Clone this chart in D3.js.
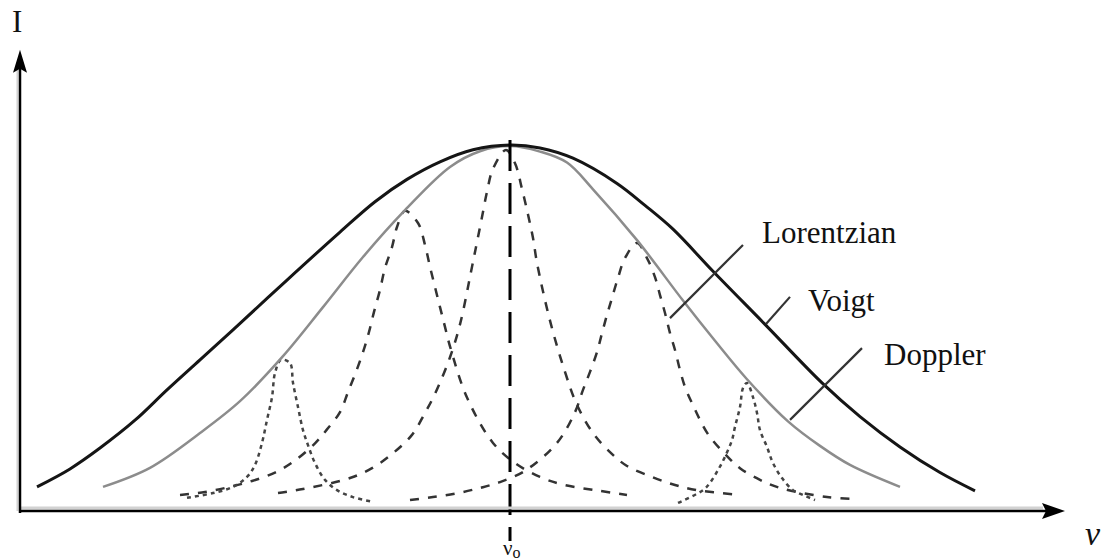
<!DOCTYPE html>
<html>
<head>
<meta charset="utf-8">
<script src="https://cdn.jsdelivr.net/npm/d3@7"></script>
<style>
  body { margin: 0; background: #fff; }
  text { font-family: "Liberation Serif", "Times New Roman", serif; fill: #111; }
</style>
</head>
<body>
<div id="graph"></div>
<script>
const width = 1106;
const height = 560;

// profiles, [nu, intensity] with nu0 = 0 and peak ~ 100
const voigt = [
  [-47.3, 6.6], [-44, 11.5], [-41, 17.2], [-37.5, 24.8], [-34.3, 33.1], [-31, 41.3],
  [-27.7, 49.5], [-22.3, 63.1], [-17, 76.2], [-13.5, 84.5], [-10.3, 90.6], [-7, 95.4],
  [-3.7, 98.7], [0, 100], [3, 99.2], [6.3, 96.4], [10.7, 89.5], [13.5, 83.5],
  [16.3, 77], [20.3, 65.5], [25.5, 51], [31.2, 35], [35, 25.8], [39, 17.5],
  [43, 10.5], [46.5, 5.5]
];

const doppler = [
  [-40.7, 6.6], [-36, 11.8], [-31, 21.3], [-27, 30], [-22.7, 42.3], [-18.7, 55.7],
  [-14.7, 69.4], [-10.5, 82.2], [-6, 94], [-3, 98.3], [0, 99.7], [3, 98.2],
  [5.7, 95.2], [8.3, 87.9], [12.7, 74], [17.3, 57.5], [20.5, 46.5], [23.7, 36],
  [27.8, 24.5], [31, 17.8], [34, 12.6], [39, 6.6]
];

// the five lorentzians under the doppler envelope
const lorentzCenter = [
  [-23.2, 4.9], [-20.7, 6], [-16, 9], [-13.8, 11.7], [-11.7, 15.8], [-9.8, 20.8],
  [-8.5, 26.8], [-7.5, 32], [-6, 42], [-5, 51], [-3.8, 66.7], [-3.3, 73.5],
  [-2.8, 80.3], [-2.3, 87.2], [-1.7, 93.5], [-0.4, 98.6], [0.5, 95], [1.2, 88],
  [1.8, 81], [2.3, 74.6], [2.7, 67.8], [4, 52], [5.5, 38], [6.7, 29], [8.3, 21.3],
  [10, 16.1], [11.7, 12.3], [14.2, 9.3], [16.5, 7.1], [18.7, 5.7], [22.5, 4.5]
];

const lorentzLeft = [
  [-33, 4.4], [-30.5, 5.2], [-28, 6.6], [-25.8, 8.2], [-23.5, 10.5], [-21.5, 13.8],
  [-19.5, 18.5], [-18.3, 22.3], [-17, 27], [-16.2, 32.5], [-15.4, 38], [-14.7, 43.4],
  [-14.1, 48.9], [-13.6, 54.4], [-13, 60.4], [-12.5, 66.4], [-11.8, 72.1], [-11.3, 77.6],
  [-10.5, 82], [-9.2, 78.7], [-8.5, 72.7], [-8, 66.7], [-7.5, 61.2], [-7, 55.7],
  [-6.5, 50.3], [-6, 45], [-4.3, 31], [-1.7, 18.6], [0.5, 13.1], [3, 9.3], [5.3, 7.2],
  [9, 5.5], [11.7, 4.4]
];

const lorentzRight = [
  [-10, 3], [-7.7, 3.8], [-5.2, 4.9], [-3, 6.3], [-1, 7.9], [1.5, 11], [4.7, 18.6],
  [6.5, 27], [7.3, 33.1], [8, 38], [8.7, 43.4], [9.2, 48.6], [9.7, 53.6], [10.2, 58.2],
  [10.8, 63.7], [11.5, 69.1], [12.7, 73.2], [13.7, 69.1], [14.5, 63.9], [15, 59],
  [15.5, 54.1], [16, 48.6], [16.5, 44], [17, 38.5], [17.5, 33.9], [18.2, 29.5],
  [19.8, 21], [21.7, 15], [23, 11.7], [25, 8.5], [27, 6.3], [31.7, 3.8], [34.3, 3.3]
];

const lorentzSmallLeft = [
  [-32.3, 3.6], [-29.7, 4.9], [-27.7, 6.6], [-26.3, 9.3], [-25.5, 12.6], [-24.8, 18.6],
  [-24.3, 24.9], [-23.8, 31.1], [-23.5, 37.7], [-22.9, 41.3], [-22, 40.4], [-21.7, 35],
  [-21.2, 28.4], [-20.7, 22.1], [-20.2, 18], [-19.5, 13.1], [-18.5, 8.5], [-17.3, 5.7],
  [-15.7, 3.8], [-13.7, 2.5]
];

const lorentzSmallRight = [
  [16.8, 2.2], [19.3, 5.7], [20, 7.7], [20.8, 11.2], [21.5, 14.8], [22.2, 19.4],
  [22.5, 23], [23, 28.4], [23.3, 33.6], [23.7, 35], [24.3, 31.1], [24.7, 26.8],
  [25, 22.1], [25.7, 17.5], [26.3, 13.1], [27.2, 9], [28.3, 5.7], [29.3, 4.4], [30.5, 3]
];

// labels and their pointer lines (nu, I)
const labelNames = ["Lorentzian", "Voigt", "Doppler"];
const labelAt = [[25.2, 73.2], [29.8, 54.6], [37.4, 39.9]];
const leaderFrom = [[23.3, 72.7], [28, 58.5], [35.2, 44.5]];
const leaderTo = [[16, 52.7], [25.6, 51.1], [28, 24.9]];

const nuZero = 0;
const nuZeroSpan = [-8.2, 101.4];

const svg = d3.select("#graph")
  .append("svg")
  .attr("width", width)
  .attr("height", height)
  .style("background", "#fff");

const x = d3.scaleLinear().domain([-49, 55.5]).range([20, 1065]);
const y = d3.scaleLinear().domain([0, 100]).range([511, 145]);

const line = d3.line()
  .x(d => x(d[0]))
  .y(d => y(d[1]))
  .curve(d3.curveCatmullRom.alpha(0.5));

// lorentzians first, they sit under the other curves
[lorentzCenter, lorentzLeft, lorentzRight].forEach(pts => {
  svg.append("path")
    .attr("d", line(pts))
    .attr("fill", "none")
    .attr("stroke", "#333")
    .attr("stroke-width", 2.5)
    .attr("stroke-dasharray", "9,9");
});

[lorentzSmallLeft, lorentzSmallRight].forEach(pts => {
  svg.append("path")
    .attr("d", line(pts))
    .attr("fill", "none")
    .attr("stroke", "#444")
    .attr("stroke-width", 2.5)
    .attr("stroke-dasharray", "4,4");
});

svg.append("path")
  .attr("d", line(doppler))
  .attr("fill", "none")
  .attr("stroke", "#8c8c8c")
  .attr("stroke-width", 2.5);

svg.append("path")
  .attr("d", line(voigt))
  .attr("fill", "none")
  .attr("stroke", "#151515")
  .attr("stroke-width", 3);

// nu0 marker
svg.append("line")
  .attr("x1", x(nuZero)).attr("x2", x(nuZero))
  .attr("y1", y(nuZeroSpan[1])).attr("y2", y(nuZeroSpan[0]))
  .attr("stroke", "#000")
  .attr("stroke-width", 3)
  .attr("stroke-dasharray", "31,12");

// pointer lines + labels
labelNames.forEach((name, i) => {
  svg.append("line")
    .attr("x1", x(leaderFrom[i][0])).attr("y1", y(leaderFrom[i][1]))
    .attr("x2", x(leaderTo[i][0])).attr("y2", y(leaderTo[i][1]))
    .attr("stroke", "#333")
    .attr("stroke-width", 2.2);
  svg.append("text")
    .attr("x", x(labelAt[i][0]))
    .attr("y", y(labelAt[i][1]))
    .style("font-size", "31px")
    .text(name);
});

// axes, drawn by hand since there are no ticks
const x0 = x(-49), yTop = y(126), xEnd = x(55.5), yBase = y(0);

svg.append("line") // grey fringe like the scanned original
  .attr("x1", x0).attr("x2", xEnd - 22)
  .attr("y1", yBase - 3).attr("y2", yBase - 3)
  .attr("stroke", "#d2d2d2").attr("stroke-width", 3);
svg.append("line")
  .attr("x1", x0 - 2.5).attr("x2", x0 - 2.5)
  .attr("y1", yTop + 20).attr("y2", yBase)
  .attr("stroke", "#d2d2d2").attr("stroke-width", 2);

svg.append("line")
  .attr("x1", x0).attr("x2", xEnd - 8)
  .attr("y1", yBase).attr("y2", yBase)
  .attr("stroke", "#000").attr("stroke-width", 2.5);
svg.append("line")
  .attr("x1", x0).attr("x2", x0)
  .attr("y1", yBase + 2).attr("y2", yTop + 8)
  .attr("stroke", "#000").attr("stroke-width", 2.5);

svg.append("path")
  .attr("d", `M${xEnd},${yBase} L${xEnd - 23},${yBase - 8} L${xEnd - 19},${yBase} L${xEnd - 23},${yBase + 8} Z`)
  .attr("fill", "#000");
svg.append("path")
  .attr("d", `M${x0},${yTop} L${x0 - 7},${yTop + 23} L${x0},${yTop + 19} L${x0 + 7},${yTop + 23} Z`)
  .attr("fill", "#000");

svg.append("text")
  .attr("x", 12)
  .attr("y", 32)
  .style("font-size", "31px")
  .text("I");

svg.append("text")
  .attr("x", 1085)
  .attr("y", 545)
  .style("font-size", "34px")
  .style("font-style", "italic")
  .text("ν");

const nuLabel = svg.append("text")
  .attr("x", x(nuZero) - 7)
  .attr("y", 555)
  .style("font-size", "21px");
nuLabel.append("tspan").text("ν");
nuLabel.append("tspan")
  .attr("dy", 3)
  .style("font-size", "16px")
  .text("o");
</script>
</body>
</html>
